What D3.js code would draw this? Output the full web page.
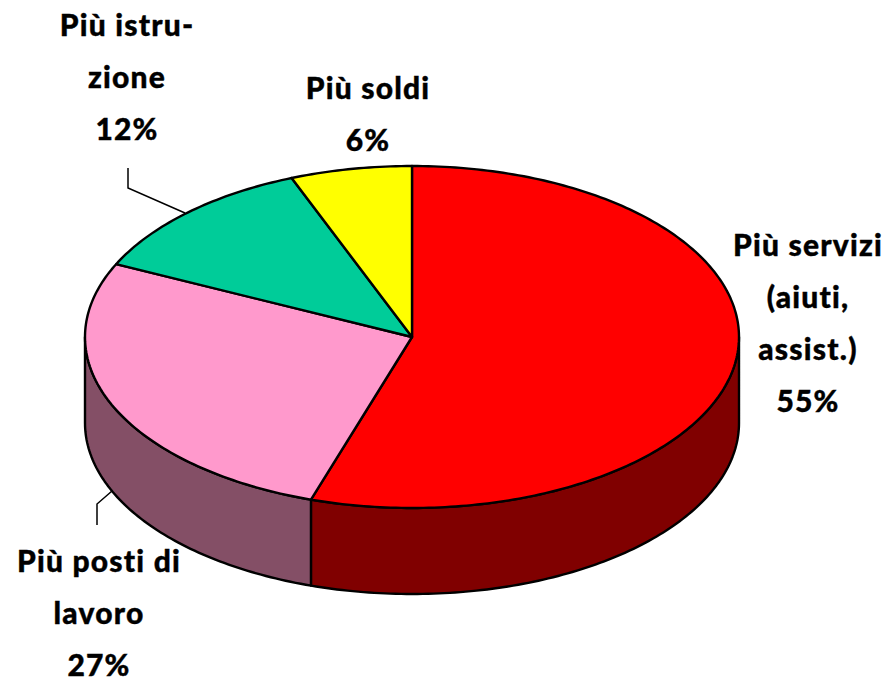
<!DOCTYPE html>
<html>
<head>
<meta charset="utf-8">
<script src="https://cdn.jsdelivr.net/npm/d3@7"></script>
<style>
  html, body { margin: 0; padding: 0; background: #fff; }
  svg { display: block; }
  .label { font-family: "Comic Sans MS", Lato, "Open Sans", sans-serif; font-weight: 900; font-size: 30px; letter-spacing: 1.2px; fill: #000; text-anchor: middle; stroke: #000; stroke-width: 0.4px; }
</style>
</head>
<body>
<div id="chart"></div>
<script>
// values
const categories = ["Più servizi", "Più posti di lavoro", "Più istruzione", "Più soldi"];
const values = [55, 27, 12, 6];
const topColors = ["#ff0000", "#ff99cc", "#00cc99", "#ffff00"];
const sideColors = ["#800000", "#844f66", "#006650", "#808000"];
const labelLines = [
    ["Più servizi", "(aiuti,", "assist.)"],
    ["Più posti di", "lavoro"],
    ["Più istru-", "zione"],
    ["Più soldi"]
];

// layout
const width = 885, height = 678;
const depth = 86, lineGap = 52;
const labelAt = [[808, 256], [99, 572], [127, 36], [368, 99]];
const leaders = [
    null,
    [[97, 525], [97, 504], [112, 491]],
    [[128, 168], [128, 188], [185, 213]],
    null
];

const x = d3.scaleLinear().domain([-1, 1]).range([85, 739]);
const y = d3.scaleLinear().domain([-1, 1]).range([166, 508]);

const svg = d3.select("#chart").append("svg")
    .attr("width", width)
    .attr("height", height)
    .attr("viewBox", "0 0 " + width + " " + height);

const arcs = d3.pie().sort(null)(values);

// point on the rim, angle clockwise from the top
const rimX = a => x(Math.sin(a));
const rimY = a => y(-Math.cos(a));

function sweep(a0, a1) {
    const n = Math.max(2, Math.ceil((a1 - a0) * 60));
    return d3.range(n + 1).map(i => a0 + (a1 - a0) * i / n);
}

const outline = d3.line().x(d => d[0]).y(d => d[1]);

// side walls, only the part of the rim that faces the viewer
const frontStart = Math.PI / 2, frontEnd = 3 * Math.PI / 2;
arcs.forEach((d, i) => {
    const a0 = Math.max(d.startAngle, frontStart);
    const a1 = Math.min(d.endAngle, frontEnd);
    if (a1 <= a0) return;
    const top = sweep(a0, a1).map(a => [rimX(a), rimY(a)]);
    const bottom = top.map(p => [p[0], p[1] + depth]).reverse();
    svg.append("path")
        .attr("d", outline(top.concat(bottom)) + "Z")
        .attr("fill", sideColors[i])
        .attr("stroke", "#000")
        .attr("stroke-width", 2.4)
        .attr("stroke-linejoin", "round");
});

// top face
arcs.forEach((d, i) => {
    const rim = sweep(d.startAngle, d.endAngle).map(a => [rimX(a), rimY(a)]);
    svg.append("path")
        .attr("d", outline([[x(0), y(0)]].concat(rim)) + "Z")
        .attr("fill", topColors[i])
        .attr("stroke", "#000")
        .attr("stroke-width", 2.4)
        .attr("stroke-linejoin", "round");
});

// leader lines
leaders.forEach(pts => {
    if (!pts) return;
    svg.append("path")
        .attr("d", d3.line()(pts))
        .attr("fill", "none")
        .attr("stroke", "#000")
        .attr("stroke-width", 1.5);
});

// labels
categories.forEach((c, i) => {
    const lines = labelLines[i].concat(values[i] + "%");
    svg.append("text")
        .attr("class", "label")
        .selectAll("tspan")
        .data(lines)
        .join("tspan")
        .attr("x", labelAt[i][0])
        .attr("y", (d, j) => labelAt[i][1] + j * lineGap)
        .text(d => d);
});
</script>
</body>
</html>
